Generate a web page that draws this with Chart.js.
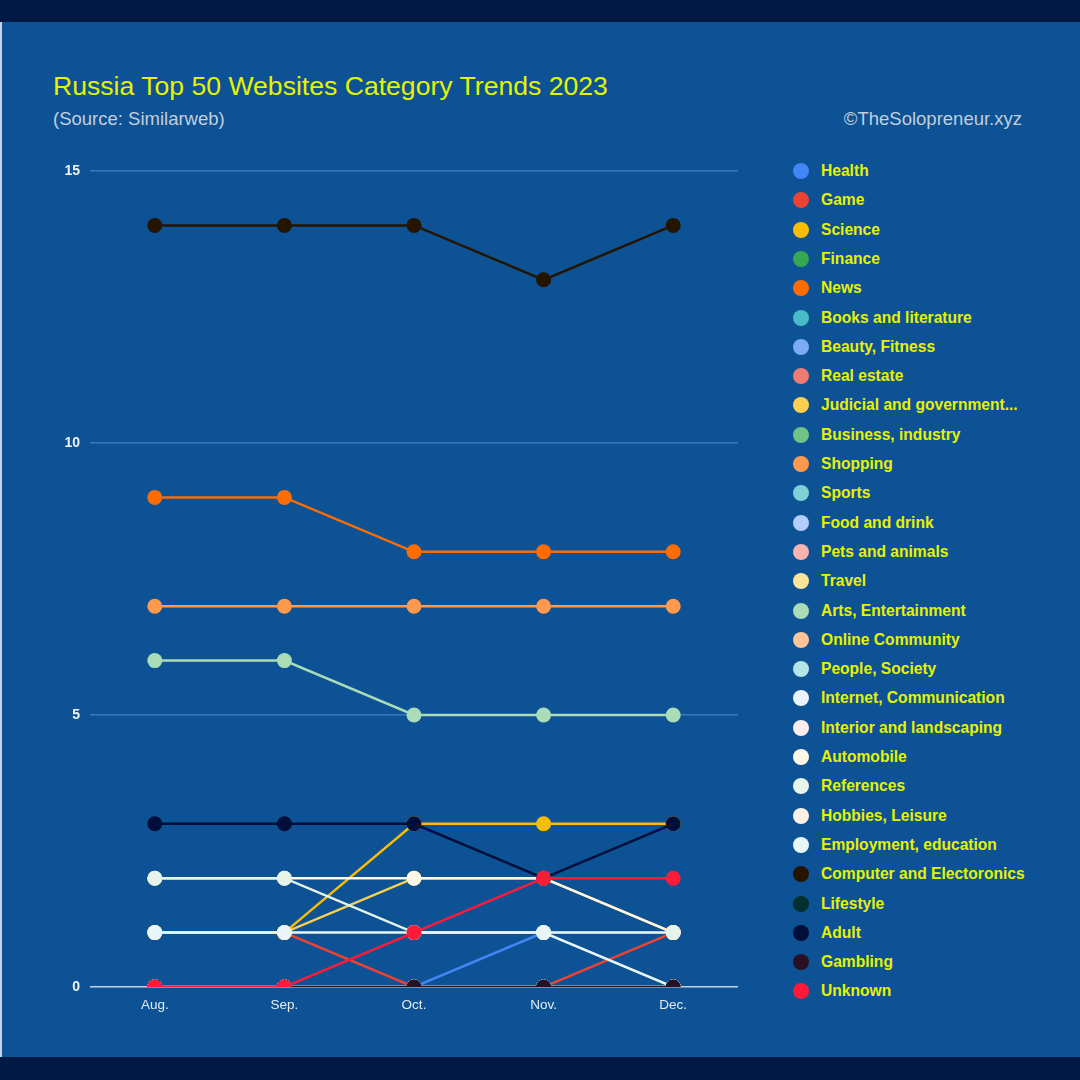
<!DOCTYPE html>
<html>
<head>
<meta charset="utf-8">
<script src="https://cdn.jsdelivr.net/npm/chart.js@4"></script>
<style>
  html, body { margin: 0; padding: 0; }
  body { width: 1080px; height: 1080px; background: #001a45; position: relative; overflow: hidden;
         font-family: "Liberation Sans", Arial, sans-serif; }
  #panel { position: absolute; left: 2px; top: 22px; width: 1078px; height: 1035px; background: #0c5294; }
  #edge { position: absolute; left: 0; top: 22px; width: 2px; height: 1035px; background: #c9d3df; }
  #title { position: absolute; left: 53px; top: 71px; font-size: 26.6px; color: #e6f200; white-space: nowrap; }
  #sub { position: absolute; left: 53px; top: 108px; font-size: 18.5px; color: #c3cedd; }
  #copy { position: absolute; right: 58px; top: 108px; font-size: 18.5px; color: #c3cedd; }
  #wrap { position: absolute; left: 40px; top: 150px; width: 720px; height: 870px; }
  #legend { position: absolute; left: 790px; top: 0; }
  .li { position: absolute; left: 0; height: 20px; white-space: nowrap; }
  .li span.dot { position: absolute; left: 3px; top: 2px; width: 16px; height: 16px; border-radius: 50%; }
  .li span.tx { position: absolute; left: 31px; top: 1px; font-size: 15.6px; font-weight: bold; color: #e6f200; }
</style>
</head>
<body>
<div id="panel"></div>
<div id="edge"></div>
<div id="title">Russia Top 50 Websites Category Trends 2023</div>
<div id="sub">(Source: Similarweb)</div>
<div id="copy">©TheSolopreneur.xyz</div>
<div id="wrap"><canvas id="c"></canvas></div>
<div id="legend"></div>
<script>
// months on the x axis
var MONTHS = ["Aug.", "Sep.", "Oct.", "Nov.", "Dec."];

// categories in legend order, with their colours
var CATEGORIES = [
  "Health", "Game", "Science", "Finance", "News", "Books and literature", "Beauty, Fitness",
  "Real estate", "Judicial and government...", "Business, industry", "Shopping", "Sports",
  "Food and drink", "Pets and animals", "Travel", "Arts, Entertainment", "Online Community",
  "People, Society", "Internet, Communication", "Interior and landscaping", "Automobile",
  "References", "Hobbies, Leisure", "Employment, education", "Computer and Electoronics",
  "Lifestyle", "Adult", "Gambling", "Unknown"
];
var COLORS = [
  "#4285f4", "#ea4335", "#fbbc04", "#34a853", "#ff6d01", "#46bdc6", "#7baaf7",
  "#f07b72", "#fcd04f", "#71c287", "#ff994d", "#7ed1d7",
  "#b3cefb", "#f7b4ae", "#fde49b", "#aadcb7", "#ffc599",
  "#b5e5e8", "#ecf3fe", "#fdeceb", "#fff8e6",
  "#e6f4ea", "#fff0e6", "#e8f6f8", "#251500",
  "#02302e", "#000e3a", "#2b0f25", "#ff1a3a"
];

// number of sites per category, Aug..Dec
var HEALTH      = [0, 0, 0, 1, 1];
var GAME        = [1, 1, 0, 0, 1];
var SCIENCE     = [1, 1, 3, 3, 3];
var FINANCE     = [0, 0, 0, 0, 0];
var NEWS        = [9, 9, 8, 8, 8];
var BOOKS       = [0, 0, 0, 0, 0];
var BEAUTY      = [0, 0, 0, 0, 0];
var REALESTATE  = [0, 0, 0, 0, 0];
var JUDICIAL    = [1, 1, 2, 2, 1];
var BUSINESS    = [0, 0, 0, 0, 0];
var SHOPPING    = [7, 7, 7, 7, 7];
var SPORTS      = [0, 0, 0, 0, 0];
var FOOD        = [0, 0, 0, 0, 0];
var PETS        = [0, 0, 0, 0, 0];
var TRAVEL      = [0, 0, 0, 0, 0];
var ARTS        = [6, 6, 5, 5, 5];
var COMMUNITY   = [0, 0, 0, 0, 0];
var PEOPLE      = [0, 0, 0, 0, 0];
var INTERNET    = [0, 0, 0, 0, 0];
var INTERIOR    = [0, 0, 0, 0, 0];
var AUTOMOBILE  = [2, 2, 2, 2, 1];
var REFERENCES  = [2, 2, 1, 1, 1];
var HOBBIES     = [0, 0, 0, 0, 0];
var EMPLOYMENT  = [1, 1, 1, 1, 0];
var COMPUTER    = [14, 14, 14, 13, 14];
var LIFESTYLE   = [0, 0, 0, 0, 0];
var ADULT       = [3, 3, 3, 2, 3];
var GAMBLING    = [0, 0, 0, 0, 0];
var UNKNOWN     = [0, 0, 1, 2, 2];

var SERIES = [HEALTH, GAME, SCIENCE, FINANCE, NEWS, BOOKS, BEAUTY, REALESTATE, JUDICIAL,
  BUSINESS, SHOPPING, SPORTS, FOOD, PETS, TRAVEL, ARTS, COMMUNITY, PEOPLE, INTERNET,
  INTERIOR, AUTOMOBILE, REFERENCES, HOBBIES, EMPLOYMENT, COMPUTER, LIFESTYLE, ADULT,
  GAMBLING, UNKNOWN];

var Y_TICKS = [0, 5, 10, 15];

// later series sit on top, like the original
var datasets = CATEGORIES.map(function (name, i) {
  return {
    label: name, data: SERIES[i],
    borderColor: COLORS[i], backgroundColor: COLORS[i],
    pointBackgroundColor: COLORS[i], pointBorderWidth: 0,
    borderWidth: 2.5, pointRadius: 7.5, pointHoverRadius: 7.5,
    tension: 0, order: CATEGORIES.length - i
  };
});

new Chart(document.getElementById("c"), {
  type: "line",
  data: { labels: MONTHS, datasets: datasets },
  options: {
    responsive: true, maintainAspectRatio: false, animation: false,
    layout: { padding: { top: 21, right: 22, left: 0, bottom: 0 } },
    plugins: { legend: { display: false }, tooltip: { enabled: false } },
    scales: {
      x: {
        offset: true,
        grid: { display: false },
        border: { display: false },
        ticks: { color: "#e4ebf4", font: { family: "Liberation Sans", size: 13.5 }, padding: 2 },
        afterFit: function (s) { s.height = 33; }
      },
      y: {
        min: 0, max: 15,
        afterBuildTicks: function (s) { s.ticks = Y_TICKS.map(function (v) { return { value: v }; }); },
        grid: {
          drawTicks: false, lineWidth: 1.5,
          color: function (ctx) { return ctx.tick && ctx.tick.value === 0 ? "#c9d3df" : "#3b78b6"; }
        },
        border: { display: false },
        ticks: { color: "#f0f4f8", font: { family: "Liberation Sans", size: 14, weight: "bold" }, padding: 10 },
        afterFit: function (s) { s.width = 50; }
      }
    }
  }
});

// html legend on the right
var leg = document.getElementById("legend");
CATEGORIES.forEach(function (name, i) {
  var row = document.createElement("div");
  row.className = "li";
  row.style.top = (161 + i * 29.3) + "px";
  row.innerHTML = "<span class='dot' style='background:" + COLORS[i] + "'></span><span class='tx'></span>";
  row.querySelector(".tx").textContent = name;
  leg.appendChild(row);
});
</script>
</body>
</html>
